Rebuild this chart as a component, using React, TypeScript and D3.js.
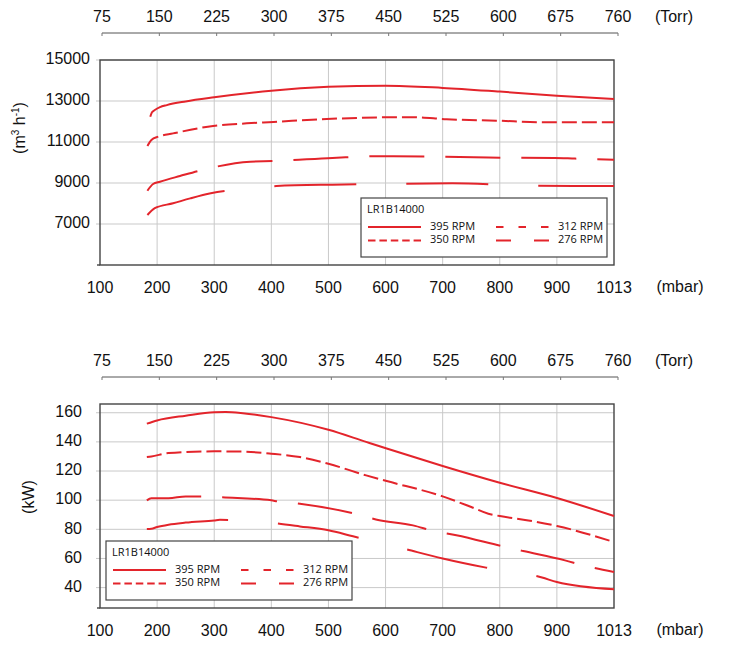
import React, { useEffect, useRef } from 'react';
import * as d3 from 'd3';

// axis ticks
const mbarTicks = [100, 200, 300, 400, 500, 600, 700, 800, 900, 1013];
const torrTicks = [75, 150, 225, 300, 375, 450, 525, 600, 675, 760];
const flowTicks = [7000, 9000, 11000, 13000, 15000];
const powerTicks = [40, 60, 80, 100, 120, 140, 160];
const rpmLabels = ['395 RPM', '350 RPM', '312 RPM', '276 RPM'];

// pumping speed (m3/h) vs inlet pressure (mbar)
const flow395: [number, number][] = [
  [188, 12230], [191, 12450], [196, 12560], [205, 12700], [217, 12800], [250, 12980], [300, 13180],
  [400, 13500], [500, 13690], [600, 13750], [700, 13640], [800, 13460], [900, 13260], [1013, 13100],
];
const flow350: [number, number][] = [
  [183, 10800], [190, 11100], [202, 11260], [228, 11420], [298, 11780], [357, 11910], [404, 11980],
  [497, 12120], [590, 12200], [648, 12210], [707, 12110], [794, 12040], [882, 11960], [1013, 11960],
];
const flow312: [number, number][] = [
  [183, 8620], [193, 8950], [205, 9060], [240, 9340], [278, 9630], [363, 10040], [402, 10070],
  [507, 10220], [590, 10310], [680, 10290], [780, 10240], [896, 10220], [936, 10190], [1013, 10140],
];
const flow276: [number, number][] = [
  [183, 7440], [196, 7770], [228, 8010], [258, 8250], [294, 8500], [350, 8700], [409, 8850],
  [507, 8920], [590, 8950], [717, 8985], [851, 8870], [934, 8850], [1013, 8850],
];

// shaft power (kW) vs inlet pressure (mbar)
const power395: [number, number][] = [
  [182, 152.5], [200, 154.7], [250, 158], [300, 160.4], [320, 160.5], [350, 159.7], [400, 157],
  [500, 148.3], [566, 140], [602, 135.5], [700, 123.5], [800, 112], [900, 101.5], [1013, 89.1],
];
const power350: [number, number][] = [
  [182, 129.6], [190, 130], [220, 132.3], [300, 133.5], [350, 133.3], [400, 131.9], [450, 129.6],
  [500, 125], [566, 117], [602, 113.1], [700, 102.6], [750, 95.3], [780, 90.7], [800, 89.1],
  [850, 86.1], [900, 82.3], [1013, 71.3],
];
const power312: [number, number][] = [
  [182, 99.9], [190, 101.4], [220, 101.4], [250, 102.6], [290, 102.6], [310, 102.1], [400, 99.9],
  [410, 99.2], [450, 97.6], [546, 90.7], [583, 86.8], [648, 82.7], [685, 78.8], [724, 75.9],
  [805, 68.3], [841, 65.1], [916, 58.7], [952, 55.3], [1013, 50.7],
];
const power276: [number, number][] = [
  [182, 80.2], [190, 80.4], [200, 81.6], [220, 83.2], [250, 84.6], [300, 86.1], [310, 86.5],
  [390, 84.8], [450, 82], [500, 79.3], [543, 75.2], [627, 67.2], [700, 60], [776, 53.7],
  [874, 46.9], [900, 43.8], [1013, 38.8],
];

const RED = '#e3242b';
const AXIS_FONT = '"Liberation Sans", Arial, sans-serif';
const LEGEND_FONT = '"Open Sans", "Noto Sans", sans-serif';

// chart / legend dash styles for 395, 350, 312, 276
const chartDash = ['none', '15 5', '55 21', '82 50'];
const legendDash = ['none', '7.5 3.9', '7.5 15', '15 23'];

type Panel = {
  top: number;
  bottom: number;
  domain: [number, number];
  ticks: number[];
  series: [number, number][][];
  tickRight: number;
  titleX: number;
  titleY: number;
  legendX: number;
  legendY: number;
  superTitle: boolean;
};

export default function App() {
  const svgRef = useRef<SVGSVGElement>(null);

  useEffect(() => {
    if (!svgRef.current) return;
    const svg = d3.select(svgRef.current);
    svg.selectAll('*').remove();

    const left = 100;
    const right = 614;
    const fs = 16;

    // the last tick is labelled 1013 but sits one even step after 900
    const x = d3.scaleLinear().domain([100, 900, 1013]).range([left, left + (8 / 9) * (right - left), right]);
    const torr = d3.scalePoint<number>().domain(torrTicks).range([102, 618]);

    const drawPanel = (p: Panel) => {
      const g = svg.append('g');
      const y = d3.scaleLinear().domain(p.domain).range([p.bottom, p.top]);
      const torrY = p.top - 27;

      // Torr axis on top
      g.append('line')
        .attr('x1', torr(torrTicks[0])!).attr('x2', torr(torrTicks[torrTicks.length - 1])!)
        .attr('y1', torrY).attr('y2', torrY)
        .attr('stroke', '#555').attr('stroke-width', 1);
      torrTicks.forEach(t => {
        g.append('line')
          .attr('x1', torr(t)!).attr('x2', torr(t)!)
          .attr('y1', torrY).attr('y2', torrY + 3)
          .attr('stroke', '#777');
        g.append('text')
          .attr('x', torr(t)!).attr('y', torrY - 15)
          .attr('text-anchor', 'middle').attr('dominant-baseline', 'middle')
          .attr('font-family', AXIS_FONT).attr('font-size', fs).attr('fill', '#111')
          .text(t);
      });
      g.append('text')
        .attr('x', 674).attr('y', torrY - 15)
        .attr('text-anchor', 'middle').attr('dominant-baseline', 'middle')
        .attr('font-family', AXIS_FONT).attr('font-size', fs).attr('fill', '#111')
        .text('(Torr)');

      // gridlines
      mbarTicks.slice(1, -1).forEach(t => {
        g.append('line')
          .attr('x1', x(t)).attr('x2', x(t))
          .attr('y1', p.top).attr('y2', p.bottom)
          .attr('stroke', '#c9c9c9').attr('stroke-width', 1);
      });
      p.ticks.forEach(t => {
        g.append('line')
          .attr('x1', left - 4).attr('x2', right)
          .attr('y1', y(t)).attr('y2', y(t))
          .attr('stroke', '#c9c9c9').attr('stroke-width', 1);
        g.append('text')
          .attr('x', p.tickRight).attr('y', y(t))
          .attr('text-anchor', 'end').attr('dominant-baseline', 'middle')
          .attr('font-family', AXIS_FONT).attr('font-size', fs).attr('fill', '#111')
          .text(t);
      });

      // frame
      g.append('rect')
        .attr('x', left).attr('y', p.top)
        .attr('width', right - left).attr('height', p.bottom - p.top)
        .attr('fill', 'none').attr('stroke', '#444').attr('stroke-width', 1.4);
      g.append('line')
        .attr('x1', left - 3).attr('x2', left)
        .attr('y1', p.bottom).attr('y2', p.bottom)
        .attr('stroke', '#444').attr('stroke-width', 1.4);

      // mbar axis labels
      mbarTicks.forEach(t => {
        g.append('text')
          .attr('x', x(t)).attr('y', p.bottom + 24)
          .attr('text-anchor', 'middle').attr('dominant-baseline', 'middle')
          .attr('font-family', AXIS_FONT).attr('font-size', fs).attr('fill', '#111')
          .text(t);
      });
      g.append('text')
        .attr('x', 680).attr('y', p.bottom + 23)
        .attr('text-anchor', 'middle').attr('dominant-baseline', 'middle')
        .attr('font-family', AXIS_FONT).attr('font-size', fs).attr('fill', '#111')
        .text('(mbar)');

      // y title
      const title = g.append('text')
        .attr('transform', `translate(${p.titleX},${p.titleY}) rotate(-90)`)
        .attr('text-anchor', 'middle').attr('dominant-baseline', 'middle')
        .attr('font-family', AXIS_FONT).attr('font-size', fs).attr('fill', '#111');
      if (p.superTitle) {
        title.append('tspan').text('(m');
        title.append('tspan').attr('font-size', 10).attr('dy', -5).text('3');
        title.append('tspan').attr('dy', 5).text(' h');
        title.append('tspan').attr('font-size', 10).attr('dy', -5).text('-1');
        title.append('tspan').attr('dy', 5).text(')');
      } else {
        title.text('(kW)');
      }

      // curves
      const line = d3.line<[number, number]>()
        .x(d => x(d[0]))
        .y(d => y(d[1]))
        .curve(d3.curveMonotoneX);

      p.series.forEach((s, i) => {
        g.append('path')
          .datum(s)
          .attr('fill', 'none')
          .attr('stroke', RED)
          .attr('stroke-width', 2)
          .attr('stroke-dasharray', chartDash[i])
          .attr('d', line);
      });

      // legend
      const lg = g.append('g').attr('transform', `translate(${p.legendX},${p.legendY})`);
      lg.append('rect')
        .attr('width', 246).attr('height', 59)
        .attr('fill', 'white').attr('stroke', '#444').attr('stroke-width', 1.2);
      lg.append('text')
        .attr('x', 6).attr('y', 12.5)
        .attr('dominant-baseline', 'middle')
        .attr('font-family', LEGEND_FONT).attr('font-size', 11).attr('fill', '#111')
        .text('LR1B14000');
      // 395 / 350 in the left column, 312 / 276 in the right
      rpmLabels.forEach((label, i) => {
        const col = i < 2 ? 0 : 1;
        const row = i % 2;
        const lx = 7 + col * 128;
        const ly = 29 + row * 13.5;
        lg.append('line')
          .attr('x1', lx).attr('x2', lx + 53)
          .attr('y1', ly).attr('y2', ly)
          .attr('stroke', RED).attr('stroke-width', 2)
          .attr('stroke-dasharray', legendDash[i]);
        lg.append('text')
          .attr('x', lx + 62).attr('y', ly)
          .attr('dominant-baseline', 'middle')
          .attr('font-family', LEGEND_FONT).attr('font-size', 11).attr('fill', '#111')
          .text(label);
      });
    };

    drawPanel({
      top: 60,
      bottom: 265,
      domain: [5000, 15000],
      ticks: flowTicks,
      series: [flow395, flow350, flow312, flow276],
      tickRight: 90,
      titleX: 21,
      titleY: 128,
      legendX: 361,
      legendY: 198,
      superTitle: true,
    });

    drawPanel({
      top: 404,
      bottom: 608,
      domain: [26, 166],
      ticks: powerTicks,
      series: [power395, power350, power312, power276],
      tickRight: 82,
      titleX: 30,
      titleY: 497,
      legendX: 106,
      legendY: 541,
      superTitle: false,
    });
  }, []);

  return (
    <div style={{ position: 'absolute', left: 0, top: 0 }}>
      <svg ref={svgRef} width={732} height={647} style={{ display: 'block', background: 'white' }} />
    </div>
  );
}
